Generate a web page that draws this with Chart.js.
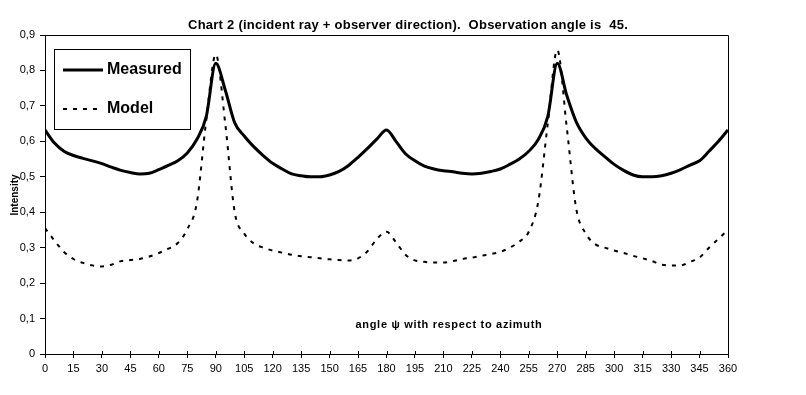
<!DOCTYPE html>
<html>
<head>
<meta charset="utf-8">
<script src="https://cdn.jsdelivr.net/npm/chart.js@4.4.1/dist/chart.umd.min.js"></script>
<style>
  html, body { margin: 0; padding: 0; background: #fff; }
  #wrap { width: 806px; height: 395px; }
</style>
</head>
<body>
<div id="wrap"><canvas id="chart" width="806" height="395"></canvas></div>
<script>
// Angle psi (degrees)
const angles = [0, 5, 10, 15, 20, 25, 30, 35, 40, 45, 50, 55, 60, 65, 70, 75, 80, 85, 90,
  95, 100, 105, 110, 115, 120, 125, 130, 135, 140, 145, 150, 155, 160, 165, 170, 175, 180,
  185, 190, 195, 200, 205, 210, 215, 220, 225, 230, 235, 240, 245, 250, 255, 260, 265, 270,
  275, 280, 285, 290, 295, 300, 305, 310, 315, 320, 325, 330, 335, 340, 345, 350, 355, 360];

const measured = [0.632, 0.595, 0.572, 0.560, 0.552, 0.545, 0.537, 0.527, 0.518, 0.512, 0.508, 0.510, 0.520, 0.532, 0.545, 0.567, 0.605, 0.670, 0.820,
  0.745, 0.652, 0.615, 0.585, 0.560, 0.538, 0.522, 0.508, 0.503, 0.500, 0.500, 0.505, 0.515, 0.532, 0.555, 0.580, 0.607, 0.632,
  0.600, 0.565, 0.545, 0.530, 0.522, 0.517, 0.514, 0.510, 0.508, 0.510, 0.515, 0.522, 0.535, 0.550, 0.572, 0.605, 0.670, 0.820,
  0.730, 0.655, 0.610, 0.580, 0.557, 0.535, 0.518, 0.505, 0.500, 0.500, 0.503, 0.510, 0.520, 0.533, 0.545, 0.572, 0.600, 0.632];

const model = [0.355, 0.320, 0.288, 0.268, 0.257, 0.250, 0.247, 0.252, 0.262, 0.265, 0.268, 0.275, 0.285, 0.297, 0.313, 0.352, 0.426, 0.660, 0.845,
  0.650, 0.400, 0.340, 0.312, 0.300, 0.292, 0.286, 0.280, 0.276, 0.273, 0.270, 0.267, 0.265, 0.264, 0.270, 0.290, 0.325, 0.345,
  0.315, 0.280, 0.264, 0.260, 0.258, 0.258, 0.262, 0.268, 0.272, 0.277, 0.282, 0.288, 0.300, 0.317, 0.345, 0.430, 0.650, 0.858,
  0.640, 0.410, 0.340, 0.310, 0.300, 0.292, 0.285, 0.277, 0.270, 0.262, 0.252, 0.250, 0.250, 0.260, 0.272, 0.300, 0.325, 0.350];

const seriesNames = ['Measured', 'Model'];
const chartTitle = 'Chart 2 (incident ray + observer direction).  Observation angle is  45.';
const yTitle = 'Intensity';
const xNote = 'angle \u03C8 with respect to azimuth';

const FONT = 'Arial, "Liberation Sans", sans-serif';

// frame, title, notes and legend box
const decorations = {
  id: 'decorations',
  afterDatasetsDraw(chart) {
    const ctx = chart.ctx;
    const a = chart.chartArea;
    const xs = chart.scales.x;
    ctx.save();
    ctx.strokeStyle = '#000';
    ctx.lineWidth = 1;
    ctx.beginPath();
    ctx.moveTo(Math.round(a.left) + 0.5, Math.round(a.top) + 0.5);
    ctx.lineTo(Math.round(a.right) + 0.5, Math.round(a.top) + 0.5);
    ctx.lineTo(Math.round(a.right) + 0.5, Math.round(a.bottom) + 0.5);
    ctx.stroke();
    // upper half of the x tick marks
    xs.ticks.forEach(t => {
      const px = Math.round(xs.getPixelForValue(t.value)) + 0.5;
      ctx.beginPath();
      ctx.moveTo(px, a.bottom);
      ctx.lineTo(px, a.bottom - 3);
      ctx.stroke();
    });

    ctx.fillStyle = '#000';
    ctx.textBaseline = 'middle';
    ctx.textAlign = 'center';
    ctx.font = 'bold 13px ' + FONT;
    ctx.letterSpacing = '0.25px';
    ctx.fillText(chartTitle, 408, 25);

    ctx.font = 'bold 11px ' + FONT;
    ctx.letterSpacing = '0.7px';
    ctx.fillText(xNote, 449, 325);
    ctx.letterSpacing = '0px';

    ctx.save();
    ctx.translate(15, 195);
    ctx.rotate(-Math.PI / 2);
    ctx.font = 'bold 10px ' + FONT;
    ctx.fillText(yTitle, 0, 0);
    ctx.restore();

    // legend box
    ctx.fillStyle = '#fff';
    ctx.fillRect(54, 49, 137, 80);
    ctx.strokeRect(54.5, 49.5, 136, 80);
    chart.data.datasets.forEach((ds, i) => {
      const y = i === 0 ? 70 : 109;
      ctx.strokeStyle = ds.borderColor;
      ctx.lineWidth = ds.borderWidth;
      ctx.setLineDash(ds.borderDash || []);
      ctx.beginPath();
      ctx.moveTo(63, y);
      ctx.lineTo(103, y);
      ctx.stroke();
      ctx.setLineDash([]);
      ctx.fillStyle = '#000';
      ctx.textAlign = 'left';
      ctx.font = 'bold 16px ' + FONT;
      ctx.fillText(ds.label, 107, y);
    });
    ctx.restore();
  }
};

const ctx = document.getElementById('chart');
const chart = new Chart(ctx, {
  type: 'line',
  data: {
    datasets: [{
      label: seriesNames[0],
      data: angles.map((a, i) => ({ x: a, y: measured[i] })),
      borderColor: '#000',
      borderWidth: 3,
      pointRadius: 0,
      tension: 0,
      cubicInterpolationMode: 'monotone'
    }, {
      label: seriesNames[1],
      data: angles.map((a, i) => ({ x: a, y: model[i] })),
      borderColor: '#000',
      borderWidth: 2,
      borderDash: [4, 6],
      pointRadius: 0,
      tension: 0,
      cubicInterpolationMode: 'monotone'
    }]
  },
  options: {
    responsive: false,
    animation: false,
    devicePixelRatio: 1,
    layout: { padding: { top: 35, right: 78, bottom: 0, left: 0 } },
    plugins: {
      legend: { display: false },
      title: { display: false },
      tooltip: { enabled: false }
    },
    scales: {
      x: {
        type: 'linear',
        min: 0,
        max: 360,
        afterFit: s => { s.height = 41; },
        ticks: {
          stepSize: 15,
          autoSkip: false,
          maxRotation: 0,
          color: '#000',
          padding: 4,
          font: { family: FONT, size: 11 }
        },
        grid: { display: true, drawOnChartArea: false, drawTicks: true, tickLength: 4, color: '#000' },
        border: { display: true, color: '#000', width: 1 }
      },
      y: {
        min: 0,
        max: 0.9,
        afterFit: s => { s.width = 45; },
        ticks: {
          stepSize: 0.1,
          color: '#000',
          padding: 5,
          font: { family: FONT, size: 11 },
          callback: v => v === 0 ? '0' : v.toFixed(1).replace('.', ',')
        },
        grid: { display: true, drawOnChartArea: false, drawTicks: true, tickLength: 5, color: '#000' },
        border: { display: true, color: '#000', width: 1 }
      }
    }
  },
  plugins: [decorations]
});
</script>
</body>
</html>
